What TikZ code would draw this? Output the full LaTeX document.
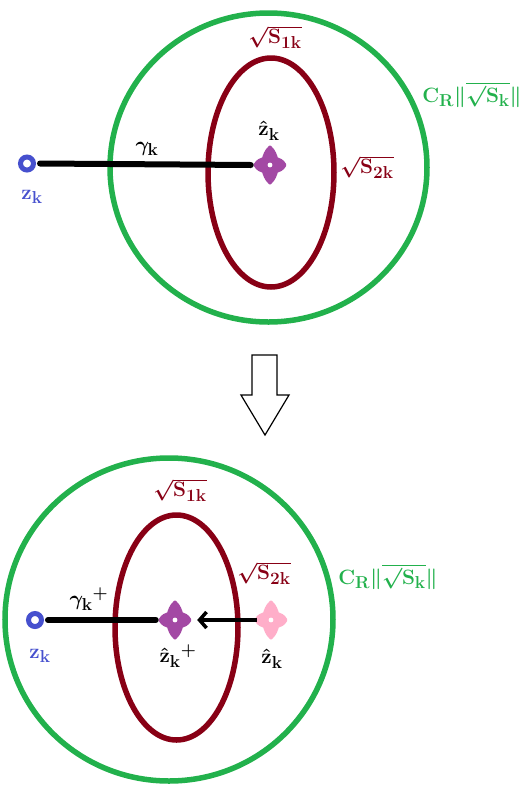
\documentclass[tikz,border=0pt]{standalone}
\usepackage{amsmath}
\usetikzlibrary{arrows.meta,shapes.geometric}
\definecolor{pgreen}{RGB}{34,177,76}
\definecolor{pmaroon}{RGB}{136,0,21}
\definecolor{pblue}{RGB}{70,80,206}
\definecolor{ppurple}{RGB}{163,73,164}
\definecolor{ppink}{RGB}{255,174,201}
\DeclareMathSizes{20}{20}{16}{12}
\tikzset{
  lbl/.style={inner sep=0pt, font=\fontsize{20}{24}\selectfont\boldmath},
  ring/.style={draw, ellipse, inner sep=0pt, line width=5.5pt},
  greenring/.style={ring, draw=pgreen},
  maroonring/.style={ring, draw=pmaroon},
  zdot/.style={circle, draw=pblue, line width=5pt, minimum size=13pt, inner sep=0pt, fill=white},
  starspot/.style={circle, minimum size=30pt, inner sep=0pt},
  blackpath/.style={line width=6pt, line cap=round},
  fourstar/.pic={
    \fill[pic actions, line width=3pt, line join=round]
      (15,0) .. controls (12.5,4.5) and (9.5,5.5) .. (6.5,6.5)
      .. controls (5.5,9.5) and (4.5,14) .. (0,18)
      .. controls (-4.5,14) and (-5.5,9.5) .. (-6.5,6.5)
      .. controls (-9.5,5.5) and (-12.5,4.5) .. (-15,0)
      .. controls (-12.5,-4.5) and (-9.5,-5.5) .. (-6.5,-6.5)
      .. controls (-5.5,-9.5) and (-4.5,-14) .. (0,-18)
      .. controls (4.5,-14) and (5.5,-9.5) .. (6.5,-6.5)
      .. controls (9.5,-5.5) and (12.5,-4.5) .. (15,0) -- cycle;
    \fill[white] (0,0) circle (2.4);
  }
}
\newcommand{\bz}{\mathbf{z}}
\newcommand{\bk}{\mathbf{k}}
\begin{document}
\begin{tikzpicture}[x=1pt,y=-1pt]
\useasboundingbox (0,0) rectangle (521,788);
% ---------- top part ----------
\node[greenring, minimum width=317pt, minimum height=309pt] (G1) at (268.5,167.5) {};
\node[maroonring, minimum width=126pt, minimum height=229pt] (M1) at (271,172.5) {};
\node[zdot] (z1) at (27,163.5) {};
\node[starspot] (s1) at (270,165) {};
\draw[blackpath] ([xshift=4pt]z1.east) -- ([xshift=-4pt]s1.west);
\pic[draw=ppurple, fill=ppurple] at (s1) {fourstar};
\node[lbl] (g1) at (147,149) {$\gamma_{\bk}$};
\node[lbl] (h1) at (269,131) {$\hat{\bz}_{\bk}$};
\node[lbl, text=pblue] (zl1) at (32,197) {$\bz_{\bk}$};
\node[lbl, text=pmaroon] (a1) at (275,37) {$\sqrt{\mathbf{S}_{\mathbf{1k}}}$};
\node[lbl, text=pmaroon] (b1) at (367,167) {$\sqrt{\mathbf{S}_{\mathbf{2k}}}$};
\node[lbl, text=pgreen] (c1) at (472,95) {$\mathbf{C}_{\mathbf{R}}\|\overline{\surd \mathbf{S}_{\bk}}\|$};
% ---------- hollow arrow ----------
\draw[line width=1.2pt, fill=white] (252,355) -- (277,355) -- (277,395) -- (289,395)
  -- (265,435) coordinate (tip) -- (241,395) -- (252,395) -- cycle;
% ---------- bottom part ----------
\node[greenring, minimum width=328pt, minimum height=323pt] (G2) at (169,619.5) {};
\node[maroonring, minimum width=123pt, minimum height=225pt] (M2) at (176.5,627.5) {};
\node[zdot] (z2) at (35,620) {};
\node[starspot] (s2) at (175,620) {};
\node[starspot] (s3) at (271,620) {};
\draw[blackpath] ([xshift=4pt]z2.east) -- ([xshift=-4pt]s2.west);
\pic[draw=ppurple, fill=ppurple] at (s2) {fourstar};
\pic[draw=ppink, fill=ppink] at (s3) {fourstar};
\draw[line width=3.5pt, -{Straight Barb[length=7pt,width=16pt,line width=3.5pt]}]
  ([xshift=1pt]s3.west) -- ([xshift=7pt]s2.east);
\node[lbl] (g2) at (89,599) {$\gamma_{\bk}{}^{+}$};
\node[lbl] (h2) at (178,656) {$\hat{\bz}_{\bk}{}^{+}$};
\node[lbl] (h3) at (272,659) {$\hat{\bz}_{\bk}$};
\node[lbl, text=pblue] (zl2) at (40,656) {$\bz_{\bk}$};
\node[lbl, text=pmaroon] (a2) at (180,490) {$\sqrt{\mathbf{S}_{\mathbf{1k}}}$};
\node[lbl, text=pmaroon] (b2) at (264,573) {$\sqrt{\mathbf{S}_{\mathbf{2k}}}$};
\node[lbl, text=pgreen] (c2) at (388,577) {$\mathbf{C}_{\mathbf{R}}\|\overline{\surd \mathbf{S}_{\bk}}\|$};
\end{tikzpicture}
\end{document}
